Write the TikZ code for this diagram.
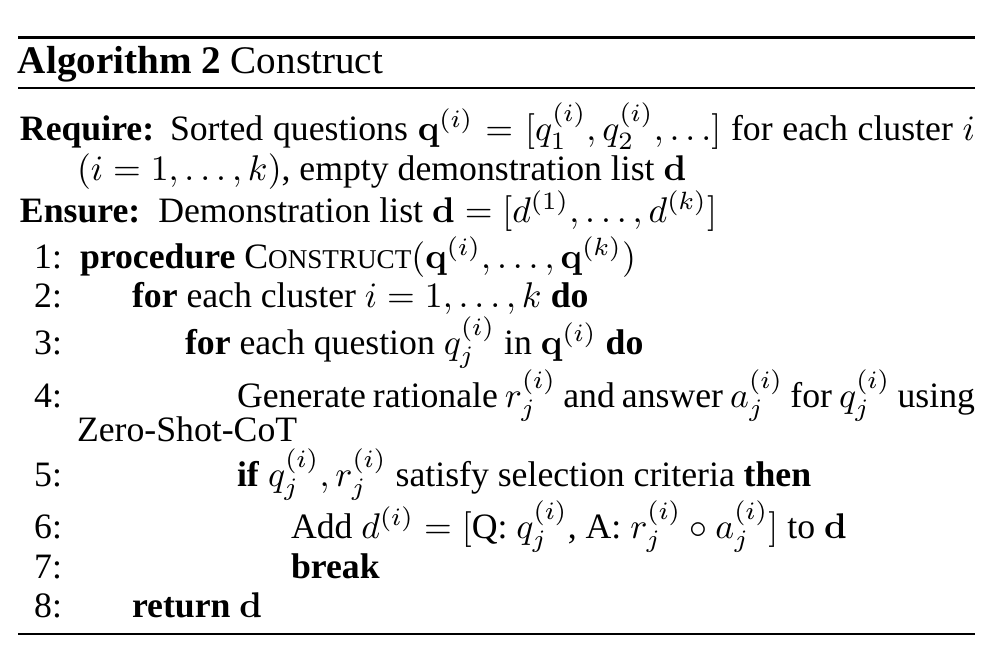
\documentclass[tikz,border=0pt]{standalone}
\usepackage[no-math]{fontspec}
\setmainfont{Liberation Serif}
\newlength\unitpx
\setlength\unitpx{0.28pt}
\newcommand\fakesc[1]{{\fontsize{7.6}{9}\selectfont #1}}
\begin{document}
\begin{tikzpicture}[x=0.28pt,y=-0.28pt,
  txt/.style={inner sep=0pt, outer sep=0pt, anchor=base west, font=\fontsize{10}{12}\selectfont},
  captxt/.style={inner sep=0pt, outer sep=0pt, anchor=base west, font=\fontsize{10.95}{13}\selectfont},
  num/.style={inner sep=0pt, outer sep=0pt, anchor=base east, font=\fontsize{10}{12}\selectfont},
  toprule/.style={line width=3\unitpx},
  midrule/.style={line width=1.6\unitpx}]
\path[use as bounding box] (0,0) rectangle (1004,654);
% rules
\coordinate (tl) at (18,37); \coordinate (tr) at (975,37);
\coordinate (ml) at (18,88); \coordinate (mr) at (975,88);
\coordinate (bl) at (18,634); \coordinate (br) at (975,634);
\draw[toprule] (tl) -- (tr);
\draw[midrule] (ml) -- (mr);
\draw[midrule] (bl) -- (br);
% caption
\node[captxt] (cap) at (18,73) {\textbf{Algorithm 2} Construct};
% require / ensure
\node[txt] (req) at (20,140) {\textbf{Require:}};
\node[txt] (reqtext) at (170,140) {\makebox[805\unitpx][s]{Sorted questions $\mathbf{q}^{(i)} = [q_1^{(i)}, q_2^{(i)}, \ldots]$ for each cluster $i$}};
\node[txt] (req2) at (77,180) {$(i = 1, \ldots, k)$, empty demonstration list $\mathbf{d}$};
\node[txt] (ens) at (20,222) {\textbf{Ensure:}\ \ Demonstration list $\mathbf{d} = [d^{(1)}, \ldots, d^{(k)}]$};
% numbered lines
\node[num] (n1) at (62,268) {1:};
\node[txt] (l1) at (80,268) {\textbf{procedure} C\fakesc{ONSTRUCT}$(\mathbf{q}^{(i)}, \ldots, \mathbf{q}^{(k)})$};
\node[num] (n2) at (62,307) {2:};
\node[txt] (l2) at (132,307) {\textbf{for} each cluster $i = 1, \ldots, k$ \textbf{do}};
\node[num] (n3) at (62,354) {3:};
\node[txt] (l3) at (185,354) {\textbf{for} each question $q_j^{(i)}$ in $\mathbf{q}^{(i)}$ \textbf{do}};
\node[num] (n4) at (62,407) {4:};
\node[txt] (l4) at (237,407) {\makebox[738\unitpx][s]{Generate rationale $r_j^{(i)}$ and answer $a_j^{(i)}$ for $q_j^{(i)}$ using}};
\node[txt] (l4b) at (77,441) {Zero-Shot-CoT};
\node[num] (n5) at (62,486) {5:};
\node[txt] (l5) at (237,486) {\textbf{if} $q_j^{(i)}, r_j^{(i)}$ satisfy selection criteria \textbf{then}};
\node[num] (n6) at (62,538) {6:};
\node[txt] (l6) at (291,538) {Add $d^{(i)} = [$Q: $q_j^{(i)}$, A: $r_j^{(i)} \circ a_j^{(i)}]$ to $\mathbf{d}$};
\node[num] (n7) at (62,578) {7:};
\node[txt] (l7) at (291,578) {\textbf{break}};
\node[num] (n8) at (62,617) {8:};
\node[txt] (l8) at (132,617) {\textbf{return} $\mathbf{d}$};
\end{tikzpicture}
\end{document}
